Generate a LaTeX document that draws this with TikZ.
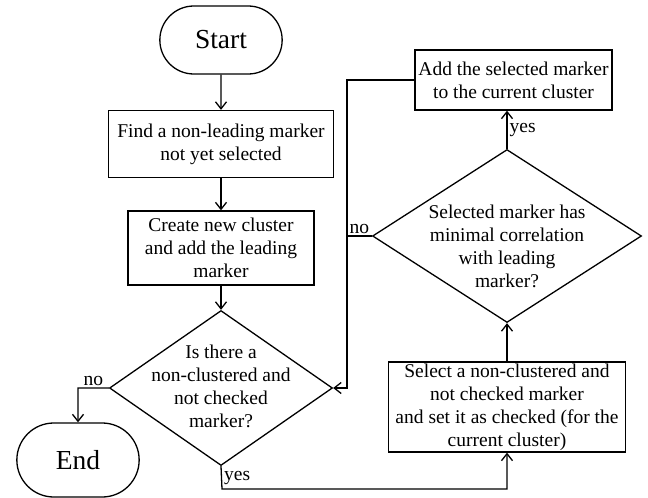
\documentclass[tikz,border=0pt]{standalone}
\usepackage{fontspec}
\setmainfont{Liberation Serif}
\usetikzlibrary{positioning, shapes.geometric, shapes.misc, arrows.meta}

\begin{document}
\begin{tikzpicture}[x=1pt, y=1pt, node distance=104pt, line width=1.3pt,
  >={Straight Barb[length=7pt,width=11pt]},
  every node/.style={font=\fontsize{19.5}{23}\selectfont},
  block/.style={rectangle,draw,align=center,inner sep=0pt},
  decision/.style={diamond,draw,inner sep=0pt},
  terminal/.style={rounded rectangle,draw,minimum width=129pt,minimum height=68pt,
    font=\fontsize{27.5}{30}\selectfont},
  lbl/.style={inner sep=2pt}]

\useasboundingbox (0,0) rectangle (648,-498);

\node[terminal] (start) at (221,-40) {Start};
\node[block, minimum width=225pt, minimum height=67pt] (find) [below of=start] {Find a non-leading marker\\not yet selected};
\node[block, minimum width=186pt, minimum height=74pt] (create) [below of=find] {Create new cluster\\and add the leading\\marker};
\node[decision, minimum width=223pt, minimum height=155pt,
  label={[align=center,yshift=2pt]center:{Is there a\\non-clustered and\\not checked\\marker?}}]
  (isthere) [below of=create, node distance=140pt] {};
\node[terminal, minimum height=74pt] (end) at (78,-460) {End};

\node[block, minimum width=237pt, minimum height=90pt] (select) at (507,-407) {Select a non-clustered and\\not checked marker\\and set it as checked (for the\\current cluster)};
\node[decision, minimum width=269pt, minimum height=173pt,
  label={[align=center,yshift=-10pt]center:{Selected marker has\\minimal correlation\\with leading\\marker?}}]
  (minimal) at (507,-236) {};
\node[block, minimum width=197pt, minimum height=60pt] (add) at (513.5,-80) {Add the selected marker\\to the current cluster};

\coordinate (loop) at (347,-80);
\coordinate (low) at (222,-489);

\draw[->] (start) -- (find);
\draw[->] (find) -- (create);
\draw[->] (create) -- (isthere);
\draw[->] (isthere.west) -- node[lbl,above] {no} (end |- isthere.west) -- (end);
\draw[->] (isthere.south) -- node[lbl,right] {yes} (low) -| (select.south);
\draw[->] (select.north) -- (minimal.south);
\draw[->] (minimal.north) -- node[lbl,right] {yes} (minimal.north |- add.south);
\draw (minimal.west) -- node[lbl,above] {no} (loop |- minimal.west);
\draw[->] (add.west) -- (loop) |- (isthere.east);

\end{tikzpicture}
\end{document}
